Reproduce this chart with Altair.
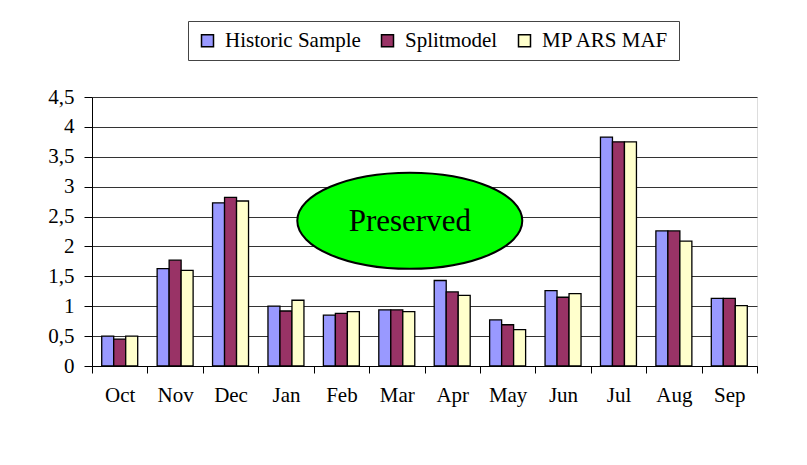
import altair as alt
import pandas as pd

months = ["Oct", "Nov", "Dec", "Jan", "Feb", "Mar", "Apr", "May", "Jun", "Jul", "Aug", "Sep"]
series = ["Historic Sample", "Splitmodel", "MP ARS MAF"]
historic = [0.50, 1.63, 2.73, 1.00, 0.85, 0.94, 1.43, 0.77, 1.26, 3.83, 2.26, 1.13]
splitmodel = [0.45, 1.77, 2.82, 0.92, 0.88, 0.94, 1.24, 0.69, 1.15, 3.75, 2.26, 1.13]
mparsmaf = [0.50, 1.60, 2.76, 1.10, 0.91, 0.91, 1.18, 0.61, 1.21, 3.75, 2.09, 1.01]
colors = ["#9999FF", "#993366", "#FFFFCC"]
y_ticks = [0, 0.5, 1, 1.5, 2, 2.5, 3, 3.5, 4, 4.5]

annotation_text = ["Preserved"]
annotation_month = ["Mar"]
annotation_y = [2.43]

rows = []
for name, vals in zip(series, [historic, splitmodel, mparsmaf]):
    for m, v in zip(months, vals):
        rows.append({"month": m, "series": name, "value": v})
df = pd.DataFrame(rows)
ann = pd.DataFrame({"month": annotation_month, "value": annotation_y, "text": annotation_text})

FONT = "Liberation Serif"
ELLIPSE = ("M -1 0 C -1 -0.236 -0.552 -0.427 0 -0.427 C 0.552 -0.427 1 -0.236 1 0 "
           "C 1 0.236 0.552 0.427 0 0.427 C -0.552 0.427 -1 0.236 -1 0 Z")

x_axis = alt.Axis(labelAngle=0, tickBand="extent", labelFont=FONT, labelFontSize=21,
                  labelColor="black", tickColor="black", domainColor="black",
                  tickSize=7, labelPadding=11, grid=False)
y_axis = alt.Axis(values=y_ticks,
                  labelExpr="replace(toString(datum.value), '.', ',')",
                  tickSize=8, labelPadding=10, grid=True, gridColor="#333333",
                  gridOpacity=1, domainColor="black", tickColor="black",
                  labelFont=FONT, labelFontSize=21, labelColor="black")


def xe():
    return alt.X("month:N", sort=months, title=None,
                 scale=alt.Scale(paddingInner=0, paddingOuter=0), axis=x_axis)


def ye():
    return alt.Y("value:Q", title=None, scale=alt.Scale(domain=[0, 4.5], nice=False),
                 axis=y_axis)


bars = alt.Chart(df).mark_bar(stroke="black", strokeWidth=1.3, opacity=1).encode(
    x=xe(),
    xOffset=alt.XOffset("series:N", sort=series,
                        scale=alt.Scale(paddingInner=0, paddingOuter=0.81)),
    y=ye(),
    color=alt.Color("series:N", sort=series,
                    scale=alt.Scale(domain=series, range=colors),
                    legend=alt.Legend(orient="none", legendX=96, legendY=-76,
                                      direction="horizontal", columns=3, title=None,
                                      strokeColor="#444444", fillColor="white", padding=9,
                                      symbolType="square", symbolSize=144,
                                      symbolStrokeColor="black", symbolStrokeWidth=1.5,
                                      symbolOpacity=1, labelFont=FONT, labelFontSize=21,
                                      labelColor="black", columnPadding=16, labelOffset=7)),
)

ellipse = alt.Chart(ann).mark_point(shape=ELLIPSE, size=225 * 225, filled=True,
                                    fill="#00FF00", stroke="black", strokeWidth=2,
                                    opacity=1, xOffset=13).encode(
    x=xe(),
    y=ye(),
)

label = alt.Chart(ann).mark_text(font=FONT, fontSize=31, color="black",
                                 baseline="middle", align="center", xOffset=13, yOffset=1).encode(
    x=xe(),
    y=ye(),
    text="text:N",
)

chart = alt.layer(bars, ellipse, label).properties(
    width=665, height=269,
    autosize=alt.AutoSizeParams(type="none"),
    padding={"left": 84, "top": 89, "right": 40, "bottom": 90},
    background="white",
).configure_view(stroke=None).configure_legend(
    labelFont=FONT, labelFontSize=21
).configure(font=FONT)

chart.save("out.html", embed_options={"renderer": "svg", "actions": False})
